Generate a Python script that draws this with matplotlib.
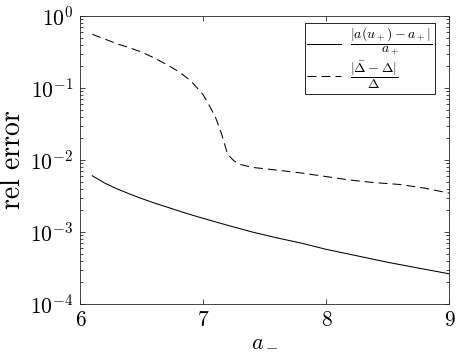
import matplotlib
matplotlib.use("Agg")
import matplotlib.pyplot as plt

plt.rcParams['font.family'] = 'serif'
plt.rcParams['font.serif'] = ['cmr10']
plt.rcParams['mathtext.fontset'] = 'cm'
plt.rcParams['axes.formatter.use_mathtext'] = True

# data
x_solid = [6.1, 6.2, 6.3, 6.4, 6.5, 6.6, 6.7, 6.8, 6.9, 7.0, 7.2, 7.4, 7.6, 7.8, 8.0, 8.25, 8.5, 8.75, 9.0]
y_solid = [0.00603, 0.00479, 0.00398, 0.00339, 0.00292, 0.00254, 0.00224, 0.00197, 0.00174,
           0.00155, 0.00124, 0.00100, 0.00083, 0.00070, 0.000575, 0.000468, 0.00038,
           0.000316, 0.000263]
x_dash = [6.1, 6.2, 6.3, 6.4, 6.5, 6.6, 6.7, 6.8, 6.9, 7.0, 7.05, 7.1, 7.15, 7.2, 7.25, 7.3,
          7.4, 7.6, 7.8, 8.0, 8.2, 8.4, 8.6, 8.8, 9.0]
y_dash = [0.557, 0.479, 0.412, 0.363, 0.316, 0.263, 0.214, 0.170, 0.126, 0.0813, 0.0575,
          0.0398, 0.0234, 0.0120, 0.0098, 0.0087, 0.0079, 0.00724, 0.0066, 0.00589, 0.00525,
          0.00484, 0.00457, 0.00407, 0.00347]
x_ticks = [6, 7, 8, 9]
labels = [r'$\dfrac{|a(u_+)-a_+|}{a_+}$', r'$\dfrac{|\bar{\Delta}-\Delta|}{\Delta}$']

fig = plt.figure(figsize=(4.57, 3.63), dpi=100)
ax = fig.add_axes([0.175, 0.1625, 0.8075, 0.7935])
ax.plot(x_solid, y_solid, '-', color='black', lw=0.75, label=labels[0])
ax.plot(x_dash, y_dash, '--', color='black', lw=0.75, dashes=(8.6, 4.8), label=labels[1])
ax.set_yscale('log')
ax.set_xlim(6, 9)
ax.set_ylim(1e-4, 1)
ax.set_xticks(x_ticks)
ax.set_xticklabels([str(t) for t in x_ticks])
ax.set_yticks([1e-4, 1e-3, 1e-2, 1e-1, 1])
ax.tick_params(which='both', direction='in', top=True, right=True, colors='0.15',
               labelcolor='black', labelsize=15.5, width=0.6)
ax.tick_params(which='major', length=3.5, pad=5)
ax.tick_params(which='minor', length=2)
for s in ax.spines.values():
    s.set_color('0.15')
    s.set_linewidth(0.6)
ax.set_xlabel(r'$a_-$', fontsize=16, labelpad=0)
ax.set_ylabel('rel error', fontsize=20, labelpad=3)
leg = ax.legend(loc='upper right', bbox_to_anchor=(0.962, 0.976), fontsize=10, frameon=True,
                fancybox=False, edgecolor='black', framealpha=1, borderpad=0.2,
                handlelength=2.45, handletextpad=0.6, labelspacing=0.1, borderaxespad=0)
leg.get_frame().set_linewidth(0.6)
fig.savefig('out.png', dpi=100)
